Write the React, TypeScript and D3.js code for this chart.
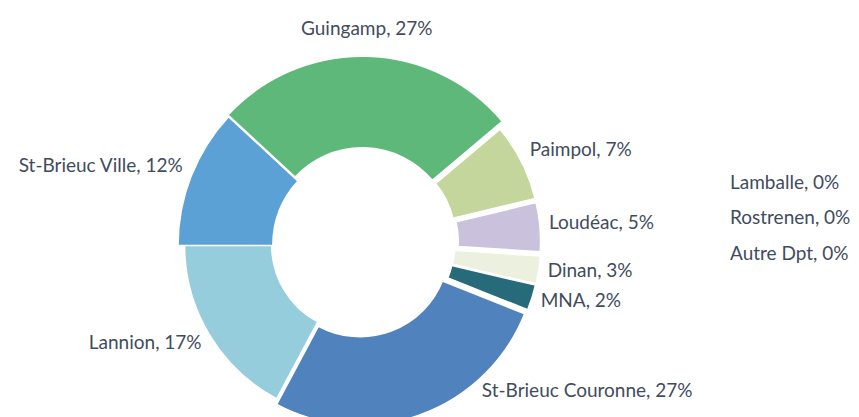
import { arc, pie } from "d3";
import { useMemo } from "react";

type Slice = {
  name: string;
  value: number;
  color: string;
};

const categories = [
  "Guingamp",
  "Paimpol",
  "Loudéac",
  "Dinan",
  "MNA",
  "St-Brieuc Couronne",
  "Lannion",
  "St-Brieuc Ville",
  "Lamballe",
  "Rostrenen",
  "Autre Dpt"
];
const shares = [27, 7.4, 4.8, 2.6, 2.4, 26.8, 17.2, 11.9, 0, 0, 0];
const sliceColors = [
  "#5db87a",
  "#c4d69c",
  "#cac1dc",
  "#ebf0df",
  "#276b7a",
  "#5082bd",
  "#95cddd",
  "#5ba1d6",
  "#cccccc",
  "#cccccc",
  "#cccccc"
];

// the slices are drawn a bit loose, each one nudged off the common centre
const sliceShift = [
  [-2.7, -3.7],
  [5.8, -5],
  [11, -2],
  [3.7, 1.7],
  [3, 3],
  [-4.8, 5.2],
  [-6.2, 2.1],
  [2.6, 2.5]
];
const sliceScale = [1.04, 0.96, 0.935, 0.977, 0.977, 1.006, 0.99, 1.077];

const width = 859;
const height = 417;
const cx = 365;
const cy = 243;
const outerRadius = 176;
const innerRatio = 0.5;
const labelGap = 9;
const labelMaxY = 389;
const startDeg = -47.2;
const textColor = "#3f4c5e";
const fontFamily = "Lato, 'Open Sans', sans-serif";
const fontSize = 19;
const emptyRowStep = 35.5;

function App() {
  const slices: Slice[] = useMemo(
    () =>
      categories.map((name, i) => ({
        name,
        value: shares[i],
        color: sliceColors[i]
      })),
    []
  );

  const arcs = useMemo(() => {
    const start = (startDeg * Math.PI) / 180;
    return pie<Slice>()
      .sort(null)
      .value((d) => d.value)
      .startAngle(start)
      .endAngle(start + Math.PI * 2)(slices);
  }, [slices]);

  const shaped = arcs.filter((a) => a.data.value > 0);
  const empty = arcs.filter((a) => a.data.value === 0);

  return (
    <svg
      width={width}
      height={height}
      style={{ position: "absolute", left: 0, top: 0, display: "block" }}
      fontFamily={fontFamily}
      fontSize={fontSize}
    >
      <rect width={width} height={height} fill="#ffffff" />
      {shaped.map((a, i) => {
        const [dx, dy] = sliceShift[i] ?? [0, 0];
        const ro = outerRadius * (sliceScale[i] ?? 1);
        const path = arc<typeof a>()
          .innerRadius(ro * innerRatio)
          .outerRadius(ro)(a);
        return (
          <path
            key={a.data.name}
            d={path ?? ""}
            transform={`translate(${cx + dx}, ${cy + dy})`}
            fill={a.data.color}
            stroke="#ffffff"
            strokeWidth={1.5}
            strokeLinejoin="round"
          />
        );
      })}
      {shaped.map((a, i) => {
        const [dx, dy] = sliceShift[i] ?? [0, 0];
        const ro = outerRadius * (sliceScale[i] ?? 1);
        const mid = (a.startAngle + a.endAngle) / 2;
        const ux = Math.sin(mid);
        const uy = -Math.cos(mid);
        const ax = cx + dx;
        const ay = cy + dy;
        const r = ro + labelGap;
        let px = ax + r * ux;
        let py = ay + r * uy;
        if (py > labelMaxY) {
          py = labelMaxY;
          const side = ux >= 0 ? 1 : -1;
          px = ax + side * Math.sqrt(Math.max(0, r * r - (py - ay) ** 2));
        }
        let anchor: "start" | "end" | "middle" = "middle";
        if (ux > 0.3) anchor = "start";
        else if (ux < -0.3) anchor = "end";
        if (anchor === "middle") {
          py += uy < 0 ? -20 : 20;
        } else if (py < labelMaxY) {
          py += -4 + uy * 12;
        }
        return (
          <text
            key={`label-${a.data.name}`}
            x={px}
            y={py}
            textAnchor={anchor}
            dominantBaseline="central"
            fill={textColor}
          >
            {`${a.data.name}, ${Math.round(a.data.value)}%`}
          </text>
        );
      })}
      {empty.map((a, i) => (
        <text
          key={`label-${a.data.name}`}
          x={cx + 365}
          y={cy - 62 + i * emptyRowStep}
          textAnchor="start"
          dominantBaseline="central"
          fill={textColor}
        >
          {`${a.data.name}, ${Math.round(a.data.value)}%`}
        </text>
      ))}
    </svg>
  );
}

export default App;
